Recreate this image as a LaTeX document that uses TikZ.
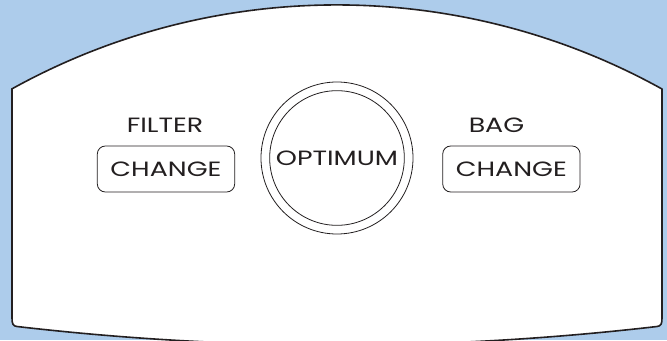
\documentclass[tikz,border=0pt]{standalone}
\usepackage{fontspec}
\setmainfont{Poppins}[FakeStretch=1.3]
\usepackage{tikz}
\usetikzlibrary{positioning,calc}
\definecolor{panelblue}{RGB}{173,204,235}
\definecolor{inkgrey}{RGB}{35,31,32}

\begin{document}
\begin{tikzpicture}[x=0.75pt,y=0.75pt,
    keytext/.style={font=\fontsize{15.5}{16}\selectfont,text=inkgrey,inner sep=0pt},
    keybox/.style={draw=inkgrey,line width=0.6pt,rounded corners=6pt,minimum width=103pt,minimum height=34.5pt,keytext},
    ring/.style={draw=inkgrey,line width=0.6pt,circle,inner sep=0pt}]
  \def\W{667}  % picture width (px)
  \def\H{340}  % picture height (px)
  \fill[panelblue] (0,0) rectangle (\W,\H); % background
  \useasboundingbox (0,0) rectangle (\W,\H);
  % panel: straight sides, arched top, sagging bottom
  \filldraw[fill=white,draw=inkgrey,line width=1.2pt,line join=round]
    (12,251) -- (12,22) .. controls (12,16) and (13,14) .. (17,13.5)
    .. controls (230,-11.2) and (444,-11.2) .. (657,13.5)
    .. controls (661,14) and (662,16) .. (662,22) -- (662,251)
    arc[start angle=61,end angle=119,radius=503pt] -- cycle;
  % left key
  \node[keybox] (filterkey) at (166,171) {CHANGE};
  \node[keytext] (filter) at (165,214.5) {FILTER};
  % centre ring
  \node[ring,minimum size=114pt] (outerring) at (337,182) {};
  \node[ring,minimum size=101pt,keytext] (optimum) at (outerring) {OPTIMUM};
  % right key
  \node[keybox] (bagkey) at (511.4,171) {CHANGE};
  \node[keytext] (bag) at (496.5,214.5) {BAG};
\end{tikzpicture}
\end{document}
